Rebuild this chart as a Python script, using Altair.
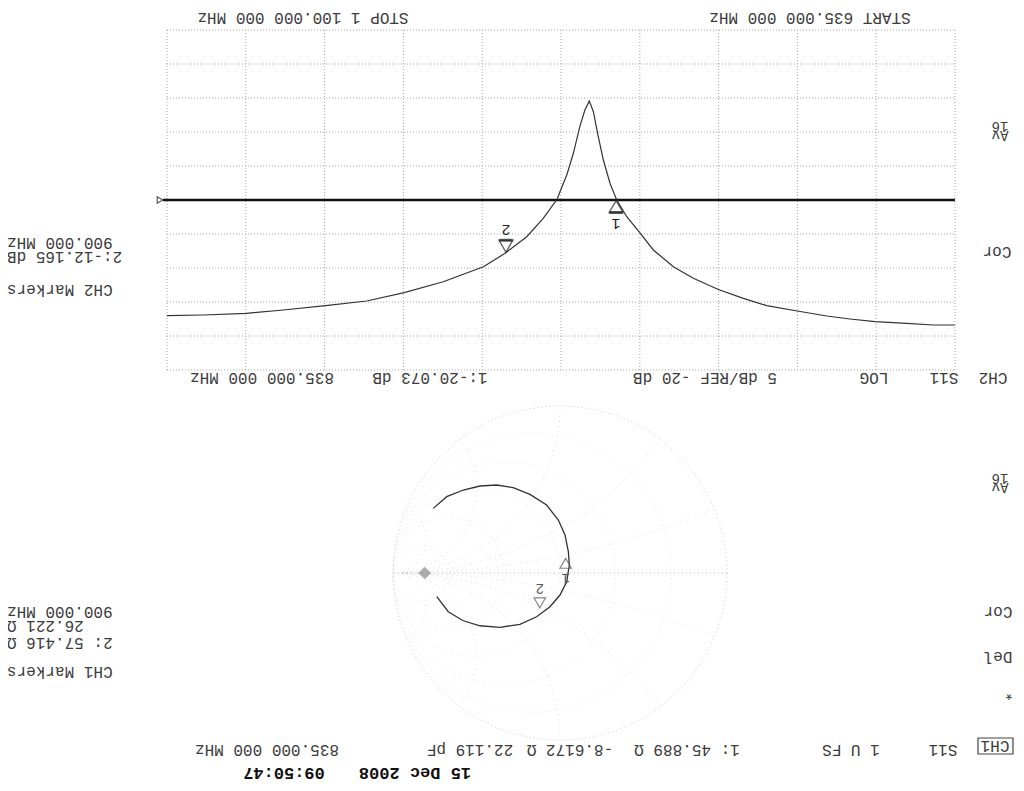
import altair as alt
import pandas as pd
import numpy as np

# ---------------- data read from the (upside-down) analyzer screen ----------------
# CH2: S11 log magnitude vs frequency
freq_mhz = [635.0, 647.8, 663.5, 682.2, 697.0, 710.7, 728.1, 746.1, 759.9, 775.0,
            789.4, 801.2, 813.0, 821.5, 828.7, 834.6, 838.6, 842.5, 845.5, 848.4,
            850.8, 853.4, 856.4, 860.2, 864.1, 868.1, 869.7, 878.0, 887.7, 900.5,
            913.3, 937.0, 960.0, 982.2, 1006.4, 1031.4, 1053.0, 1078.6, 1100.0]
s11_db = [-1.62, -1.62, -1.87, -2.10, -2.50, -2.94, -3.68, -4.46, -5.54, -6.87,
          -8.48, -10.19, -12.65, -15.34, -17.54, -20.00, -22.46, -25.88, -29.31, -32.99,
          -34.56, -33.24, -30.78, -26.87, -23.68, -21.22, -20.15, -17.31, -14.60, -12.16,
          -10.19, -7.98, -6.37, -5.15, -4.46, -3.82, -3.34, -3.09, -2.99]
marker_freq = [835.0, 900.0]
marker_db = [-20.073, -12.165]
marker_id = ["1", "2"]
ref_level_db = [-20.0]
freq_grid = [635.0, 681.5, 728.0, 774.5, 821.0, 867.5, 914.0, 960.5, 1007.0, 1053.5, 1100.0]
db_grid = [-45, -40, -35, -30, -25, -20, -15, -10, -5, 0, 5]

# CH1: S11 Smith chart (reflection coefficient)
gamma_re = [0.759, 0.678, 0.579, 0.479, 0.379, 0.280, 0.180, 0.080, 0.010, -0.030, -0.050,
            -0.056, -0.040, 0.000, 0.060, 0.140, 0.240, 0.359, 0.479, 0.579, 0.669, 0.738]
gamma_im = [-0.387, -0.457, -0.497, -0.521, -0.527, -0.511, -0.471, -0.407, -0.317, -0.228, -0.128,
            -0.048, 0.052, 0.132, 0.202, 0.262, 0.307, 0.325, 0.316, 0.286, 0.232, 0.142]
smith_marker_re = [-0.034, 0.121]
smith_marker_im = [-0.094, 0.215]
smith_r_circles = [0.0, 0.2, 0.5, 1.0, 2.0, 5.0]
smith_x_arcs = [0.2, 0.5, 1.0, 2.0, 5.0, -0.2, -0.5, -1.0, -2.0, -5.0]

# ---------------- layout (page px minus 8px margin) ----------------
M = 8
TX = alt.Scale(domain=[635, 1100], range=[955 - M, 167 - M], nice=False, zero=False)
TY = alt.Scale(domain=[-45, 5], range=[30 - M, 370 - M], nice=False, zero=False)
SR = 167
SCX, SCY = 560 - M, 573 - M
SX = alt.Scale(domain=[-1, 1], range=[SCX + SR, SCX - SR], nice=False, zero=False)
SY = alt.Scale(domain=[-1, 1], range=[SCY - SR, SCY + SR], nice=False, zero=False)

GRID = "#a8a8a8"
SGRID = "#dedede"
INK = "#333333"
TXT = "#3c3c3c"
FONT = "Liberation Mono"

L = []

# top panel graticule
L.append(alt.Chart(pd.DataFrame({"f": freq_grid})).mark_rule(color=GRID, strokeDash=[1, 2], strokeWidth=1)
         .encode(x=alt.X("f:Q", scale=TX, axis=None), y=alt.value(30 - M), y2=alt.value(370 - M)))
L.append(alt.Chart(pd.DataFrame({"d": db_grid})).mark_rule(color=GRID, strokeDash=[1, 2], strokeWidth=1)
         .encode(y=alt.Y("d:Q", scale=TY, axis=None), x=alt.value(167 - M), x2=alt.value(955 - M)))
# reference line and its indicator
L.append(alt.Chart(pd.DataFrame({"d": ref_level_db})).mark_rule(color="#111", strokeWidth=2.6)
         .encode(y=alt.Y("d:Q", scale=TY, axis=None), x=alt.value(163 - M), x2=alt.value(955 - M)))
L.append(alt.Chart(pd.DataFrame({"d": ref_level_db})).mark_point(shape="triangle-right", filled=False, size=40,
                                                                  color="#111", strokeWidth=1.2)
         .encode(y=alt.Y("d:Q", scale=TY, axis=None), x=alt.value(160 - M)))
# trace
trace = pd.DataFrame({"f": freq_mhz, "db": s11_db})
L.append(alt.Chart(trace).mark_line(color=INK, strokeWidth=1.2)
         .encode(x=alt.X("f:Q", scale=TX, axis=None), y=alt.Y("db:Q", scale=TY, axis=None)))
# markers
mk = pd.DataFrame({"f": marker_freq, "db": marker_db, "id": marker_id})
m1 = mk[mk.id == "1"]
m2 = mk[mk.id == "2"]
enc = dict(x=alt.X("f:Q", scale=TX, axis=None), y=alt.Y("db:Q", scale=TY, axis=None))
L.append(alt.Chart(m1).mark_point(shape="triangle-up", filled=False, size=190, color="#222",
                                  strokeWidth=1.4, yOffset=7).encode(**enc))
L.append(alt.Chart(m1).mark_point(shape="stroke", size=180, color="#222", strokeWidth=3, yOffset=13).encode(**enc))
L.append(alt.Chart(m1).mark_text(angle=180, font=FONT, fontSize=15, color="#222", yOffset=24)
         .encode(text="id:N", **enc))
L.append(alt.Chart(m2).mark_point(shape="triangle-down", filled=False, size=190, color="#222",
                                  strokeWidth=1.4, yOffset=-7).encode(**enc))
L.append(alt.Chart(m2).mark_point(shape="stroke", size=180, color="#222", strokeWidth=3, yOffset=-13).encode(**enc))
L.append(alt.Chart(m2).mark_text(angle=180, font=FONT, fontSize=15, color="#222", yOffset=-23)
         .encode(text="id:N", **enc))

# Smith chart graticule
sx = alt.X("gr:Q", scale=SX, axis=None)
sy = alt.Y("gi:Q", scale=SY, axis=None)
for r in smith_r_circles:
    c = r / (1 + r)
    rad = 1 / (1 + r)
    d = 2 * rad * SR
    L.append(alt.Chart(pd.DataFrame({"gr": [c], "gi": [0.0]}))
             .mark_point(shape="circle", filled=False, size=d * d, color=SGRID if r > 0 else "#b4b4b4",
                         strokeDash=[1, 4] if r > 0 else [1, 3], strokeWidth=1)
             .encode(x=sx, y=sy))
rows = []
rr = np.concatenate([np.linspace(0, 1, 40), np.linspace(1.05, 40, 80)])
for k, xv in enumerate(smith_x_arcs):
    z = rr + 1j * xv
    g = (z - 1) / (z + 1)
    for j, gv in enumerate(g):
        rows.append({"gr": gv.real, "gi": gv.imag, "k": k, "j": j})
L.append(alt.Chart(pd.DataFrame(rows)).mark_line(color=SGRID, strokeDash=[1, 4], strokeWidth=1)
         .encode(x=sx, y=sy, detail="k:N", order="j:Q"))
L.append(alt.Chart(pd.DataFrame({"gr": [-1.0], "gr2": [1.0], "gi": [0.0]}))
         .mark_rule(color="#b4b4b4", strokeDash=[1, 3])
         .encode(x=sx, x2="gr2:Q", y=sy))
L.append(alt.Chart(pd.DataFrame({"gr": [0.81], "gi": [0.0]}))
         .mark_point(shape="diamond", filled=True, size=160, color="#8a8a8a").encode(x=sx, y=sy))

# Smith trace
sm = pd.DataFrame({"gr": gamma_re, "gi": gamma_im, "i": list(range(len(gamma_re)))})
L.append(alt.Chart(sm).mark_line(color=INK, strokeWidth=1.3).encode(x=sx, y=sy, order="i:Q"))
smk = pd.DataFrame({"gr": smith_marker_re, "gi": smith_marker_im, "id": marker_id})
s1 = smk[smk.id == "1"]
s2 = smk[smk.id == "2"]
L.append(alt.Chart(s1).mark_point(shape="triangle-up", filled=False, size=130, color="#555", strokeWidth=1.2,
                                  yOffset=6).encode(x=sx, y=sy))
L.append(alt.Chart(s1).mark_text(angle=180, font=FONT, fontSize=14, color="#555", yOffset=21)
         .encode(x=sx, y=sy, text="id:N"))
L.append(alt.Chart(s2).mark_point(shape="triangle-down", filled=False, size=130, color="#555", strokeWidth=1.2,
                                  yOffset=-6).encode(x=sx, y=sy))
L.append(alt.Chart(s2).mark_text(angle=180, font=FONT, fontSize=14, color="#555", yOffset=-21)
         .encode(x=sx, y=sy, text="id:N"))

# CH1 box
L.append(alt.Chart(pd.DataFrame({"a": [0]})).mark_rect(filled=False, stroke="#444", strokeWidth=1.2)
         .encode(x=alt.value(978 - M), x2=alt.value(1013 - M), y=alt.value(738 - M), y2=alt.value(754 - M)))

# annotations (page position of the displayed text centre / left edge)
labels = [
    ("STOP 1 100.000 000 MHz", 303, 18, "c"),
    ("START 635.000 000 MHz", 810, 18, "c"),
    ("CH2", 993, 378, "c"), ("S11", 944, 378, "c"), ("LOG", 874, 378, "c"),
    ("5 dB/REF -20 dB", 705, 378, "c"), ("1:-20.073 dB", 430, 378, "c"),
    ("835.000 000 MHz", 262, 378, "c"),
    ("16", 1000, 126, "s"), ("Av", 1000, 135, "s"), ("Cor", 997, 252, "c"),
    ("900.000 MHz", 7, 243, "r"), ("2:-12.165 dB", 7, 257, "r"), ("CH2 Markers", 7, 290, "r"),
    ("16", 1000, 478, "s"), ("Av", 1000, 487, "s"), ("Cor", 998, 612, "c"),
    ("Del", 998, 657, "c"), ("*", 1009, 693, "c"),
    ("900.000 MHz", 7, 612, "r"), ("26.221 Ω", 7, 626, "r"), ("2: 57.416 Ω", 7, 643, "r"),
    ("CH1 Markers", 7, 672, "r"),
    ("CH1", 995, 746, "c"), ("S11", 943, 750, "c"), ("1 U FS", 851, 750, "c"),
    ("1: 45.889 Ω", 687, 750, "c"), ("-8.6172 Ω", 570, 750, "c"), ("22.119 pF", 470, 750, "c"),
    ("835.000 000 MHz", 267, 750, "c"),
    ("15 Dec 2008", 415, 773, "d"), ("09:50:47", 284, 773, "d"),
]
lab = pd.DataFrame([{"t": t, "px": x - M, "py": y - M, "g": g} for t, x, y, g in labels])
styles = {
    "c": dict(align="center", fontSize=16, color=TXT),
    "r": dict(align="right", fontSize=16, color=TXT),
    "s": dict(align="center", fontSize=14, color=TXT),
    "d": dict(align="center", fontSize=17, color="#111", fontWeight="bold"),
}
for g, st in styles.items():
    L.append(alt.Chart(lab[lab.g == g]).mark_text(angle=180, baseline="middle", font=FONT, **st)
             .encode(x=alt.X("px:Q", scale=None, axis=None), y=alt.Y("py:Q", scale=None, axis=None), text="t:N"))

chart = (alt.layer(*L)
         .resolve_scale(x="independent", y="independent")
         .properties(width=1008, height=775, padding=0, background="white",
                     autosize=alt.AutoSizeParams(type="none"))
         .configure_view(stroke=None))

chart.save("out.html", embed_options={"renderer": "svg", "actions": False})
